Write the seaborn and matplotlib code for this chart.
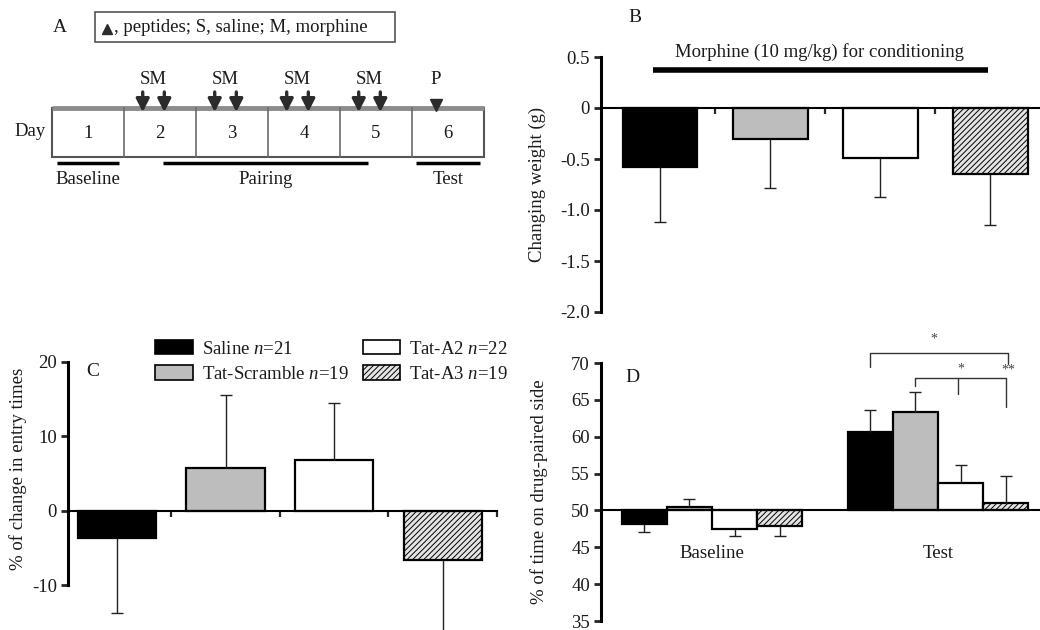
import matplotlib
matplotlib.use('Agg')
import matplotlib.pyplot as plt
from matplotlib.patches import Rectangle, Patch
import pandas as pd
import seaborn as sns

# groups used in panels B-D
groups = ['Saline', 'Tat-Scramble', 'Tat-A2', 'Tat-A3']
group_n = [21, 19, 22, 19]
bar_colors = ['#000000', '#bdbdbd', '#ffffff', '#e4e4e4']

# B: changing weight (g)
weight_change = [-0.58, -0.30, -0.49, -0.65]
weight_err = [0.54, 0.48, 0.38, 0.50]

# C: % of change in entry times
entry_change = [-3.6, 5.7, 6.8, -6.6]
entry_err = [10.1, 9.9, 7.7, 11.0]

# D: % of time on drug-paired side
phases = ['Baseline', 'Test']
time_baseline = [48.2, 50.5, 47.5, 47.9]
time_baseline_err = [1.1, 1.0, 1.0, 1.4]
time_test = [60.6, 63.3, 53.7, 51.0]
time_test_err = [3.0, 2.7, 2.5, 3.7]

# A: schedule
days = [1, 2, 3, 4, 5, 6]
sm_days = [2, 3, 4, 5]
peptide_day = 6
periods = [('Baseline', 0.07, 0.93), ('Pairing', 1.54, 4.39), ('Test', 5.06, 5.94)]

sns.set_theme(style='white')
plt.rcParams['font.family'] = ['Liberation Serif', 'DejaVu Serif']
plt.rcParams['mathtext.fontset'] = 'custom'
plt.rcParams['mathtext.rm'] = 'Liberation Serif'
plt.rcParams['mathtext.it'] = 'Liberation Serif:italic'
plt.rcParams['axes.unicode_minus'] = False
plt.rcParams['hatch.linewidth'] = 0.7
FS = 13.5
TXT = '#1a1a1a'

fig = plt.figure(figsize=(10.4, 6.3), dpi=100)


def px_axes(left, top, right, bottom):
    return fig.add_axes([left / 1040, 1 - bottom / 630, (right - left) / 1040, (bottom - top) / 630])


def err_lines(ax, xs, vals, errs, base):
    ends = [v - e if v < base else v + e for v, e in zip(vals, errs)]
    ax.vlines(xs, vals, ends, color='#222222', lw=1)
    ax.plot(xs, ends, ls='none', marker='_', ms=8, mew=1, color='#222222')


def style_bar_axes(ax, zero):
    for s in ['top', 'right']:
        ax.spines[s].set_visible(False)
    ax.spines['left'].set_linewidth(2.2)
    ax.spines['left'].set_color('black')
    ax.spines['bottom'].set_position(('data', zero))
    ax.spines['bottom'].set_linewidth(1.5)
    ax.spines['bottom'].set_color('black')
    ax.tick_params(axis='y', left=True, length=5, width=2, direction='out',
                   labelsize=FS, labelcolor=TXT, pad=3)
    ax.tick_params(axis='x', bottom=True, length=4, width=1.6, direction='out')
    ax.set_xlabel('')


# ---------- A: schedule ----------
axA = px_axes(0, 0, 520, 200)
axA.set_xlim(-52 / 72, 468 / 72)
axA.set_ylim(200, 0)
axA.axis('off')
axA.add_patch(Rectangle((0, 108), len(days), 49, fill=False, ec='#555555', lw=1.5))
axA.plot([0, len(days)], [108, 108], color='#8c8c8c', lw=3.5, solid_capstyle='butt')
for d in days:
    if d > 1:
        axA.plot([d - 1, d - 1], [108, 157], color='#6a6a6a', lw=1.2)
    axA.text(d - 0.5, 133, str(d), ha='center', va='center', fontsize=FS, color=TXT)
axA.text(-0.31, 131, 'Day', ha='center', va='center', fontsize=FS, color=TXT)
for d in sm_days:
    s = d - 1
    for off in (0.26, 0.56):
        axA.annotate('', xy=(s + off, 112), xytext=(s + off, 92),
                     arrowprops=dict(arrowstyle='-|>,head_width=0.28,head_length=0.55',
                                     lw=2.4, color='#2b2b2b', shrinkA=0, shrinkB=0,
                                     mutation_scale=14))
    axA.text(s + 0.41, 80, 'SM', ha='center', va='center', fontsize=FS, color=TXT)
axA.text(peptide_day - 1 + 0.33, 80, 'P', ha='center', va='center', fontsize=FS, color=TXT)
axA.plot(peptide_day - 1 + 0.33, 105, marker='v', ms=8, color='#2b2b2b')
for name, a, b in periods:
    axA.plot([a, b], [163, 163], color='black', lw=2.5, solid_capstyle='butt')
    axA.text((a + b) / 2, 179, name, ha='center', va='center', fontsize=FS, color=TXT)
axA.add_patch(Rectangle((0.597, 12), 4.167, 30, fill=False, ec='#555555', lw=1.2))
axA.plot(0.77, 29, marker='^', ms=7, color='#2b2b2b')
axA.text(0.86, 28, ', peptides; S, saline; M, morphine', ha='left', va='center',
         fontsize=FS, color=TXT)
fig.text(60 / 1040, 1 - 27 / 630, 'A', fontsize=14, ha='center', va='center', color=TXT)

# ---------- B: weight ----------
axB = px_axes(601, 57, 1040, 312)
df_b = pd.DataFrame({'group': groups, 'value': weight_change})
sns.barplot(data=df_b, x='group', y='value', hue='group', palette=dict(zip(groups, bar_colors)),
            saturation=1, edgecolor='black', linewidth=1.6, width=0.68, errorbar=None,
            legend=False, ax=axB)
axB.containers[3][0].set_hatch('//////')
err_lines(axB, range(len(groups)), weight_change, weight_err, 0)
axB.set_xlim(-0.536, 3.45)
axB.set_ylim(-2.0, 0.5)
axB.set_yticks([0.5, 0, -0.5, -1.0, -1.5, -2.0])
axB.set_yticklabels(['0.5', '0', '-0.5', '-1.0', '-1.5', '-2.0'])
axB.set_xticks([0.5, 1.5, 2.5])
axB.set_xticklabels([])
style_bar_axes(axB, 0)
axB.set_ylabel('Changing weight (g)', fontsize=FS, color=TXT)
axB.yaxis.set_label_coords(-0.126, 0.5)
axB.plot([-0.06, 2.98], [0.37, 0.37], color='black', lw=4, solid_capstyle='butt', clip_on=False)
axB.text(1.45, 0.545, 'Morphine (10 mg/kg) for conditioning', ha='center', va='center',
         fontsize=FS, color=TXT, clip_on=False)
fig.text(635 / 1040, 1 - 17 / 630, 'B', fontsize=14, ha='center', va='center', color=TXT)

# ---------- C: entry times ----------
axC = px_axes(68, 362, 497, 630)
df_c = pd.DataFrame({'group': groups, 'value': entry_change})
sns.barplot(data=df_c, x='group', y='value', hue='group', palette=dict(zip(groups, bar_colors)),
            saturation=1, edgecolor='black', linewidth=1.6, width=0.72, errorbar=None,
            legend=False, ax=axC)
axC.containers[3][0].set_hatch('//////')
err_lines(axC, range(len(groups)), entry_change, entry_err, 0)
axC.set_xlim(-0.451, 3.496)
axC.set_ylim(-16, 20)
axC.set_yticks([20, 10, 0, -10])
axC.set_yticklabels(['20', '10', '0', '-10'])
axC.set_xticks([0.5, 1.5, 2.5, 3.5])
axC.set_xticklabels([])
style_bar_axes(axC, 0)
axC.spines['left'].set_bounds(-10, 20)
axC.set_ylabel('% of change in entry times', fontsize=FS, color=TXT)
axC.yaxis.set_label_coords(-0.095, 0.60)
axC.text(0.058, 0.963, 'C', transform=axC.transAxes, fontsize=14, ha='center', va='center', color=TXT)

handles = []
for c in bar_colors:
    handles.append(Patch(facecolor=c, edgecolor='black', linewidth=1.2))
handles[3].set_hatch('//////')
labels = [f'{g} $\\it{{n}}$={n}' for g, n in zip(groups, group_n)]
fig.legend(handles, labels, ncol=2, loc='upper left', frameon=False, fontsize=FS,
           bbox_to_anchor=(155 / 1040, 1 - 340 / 630), bbox_transform=fig.transFigure,
           borderpad=0, borderaxespad=0, handlelength=2.0, handleheight=0.8,
           handletextpad=0.5, columnspacing=0.75, labelspacing=0.4, labelcolor=TXT)

# ---------- D: time on drug-paired side ----------
axD = px_axes(601, 363, 1040, 621)
rows = []
for ph, vals in zip(phases, [time_baseline, time_test]):
    for g, v in zip(groups, vals):
        rows.append({'phase': ph, 'group': g, 'value': v})
df_d = pd.DataFrame(rows)
df_d['height'] = df_d['value'] - 50
sns.barplot(data=df_d, x='phase', y='height', hue='group', hue_order=groups,
            palette=dict(zip(groups, bar_colors)), saturation=1, edgecolor='black',
            linewidth=1.6, width=0.8, errorbar=None, legend=False, bottom=50, ax=axD)
for p in axD.containers[3]:
    p.set_hatch('//////')
for i, (vals, errs) in enumerate([(time_baseline, time_baseline_err), (time_test, time_test_err)]):
    xs = [i + (j - 1.5) * 0.2 for j in range(len(groups))]
    err_lines(axD, xs, vals, errs, 50)
    axD.text(i, 44.1, phases[i], ha='center', va='center', fontsize=FS, color=TXT)
axD.set_xlim(-0.491, 1.451)
axD.set_ylim(35, 70)
axD.set_yticks(range(35, 71, 5))
axD.set_xticks([])
style_bar_axes(axD, 50)
axD.set_ylabel('% of time on drug-paired side', fontsize=FS, color=TXT)
axD.yaxis.set_label_coords(-0.121, 0.5)
axD.text(0.071, 0.942, 'D', transform=axD.transAxes, fontsize=14, ha='center', va='center', color=TXT)

# significance brackets
bk = dict(color='#333333', lw=1, clip_on=False)
axD.plot([0.7, 0.7, 1.31, 1.31], [69.4, 71.4, 71.4, 69.9], **bk)
axD.plot([0.9, 0.9, 1.3], [66.9, 68.0, 68.0], **bk)
axD.plot([1.09, 1.09], [68.0, 65.8], **bk)
axD.plot([1.3, 1.3], [68.0, 64.0], **bk)
st = dict(ha='center', va='center', fontsize=10, color='#444444', clip_on=False)
axD.text(0.98, 73.2, '*', **st)
axD.text(1.10, 69.2, '*', **st)
axD.text(1.31, 69.0, '**', **st)

fig.savefig('out.png', dpi=100)
